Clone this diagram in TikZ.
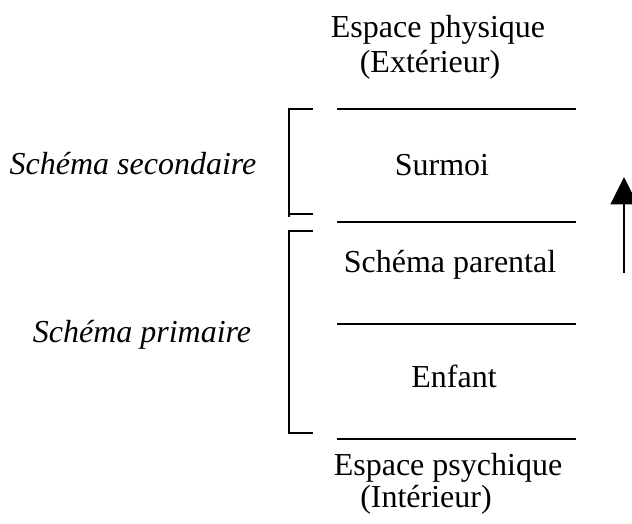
\documentclass[tikz,border=0pt]{standalone}
\usepackage{fontspec}
\setmainfont{Liberation Serif}
\usetikzlibrary{arrows.meta}
\begin{document}
\begin{tikzpicture}[x=0.4pt,y=-0.4pt,
  txt/.style={anchor=base,inner sep=0pt,font=\fontsize{12.8}{15}\selectfont},
  itxt/.style={txt,font=\fontsize{12.8}{15}\selectfont\itshape},
  rule/.style={line width=0.8pt},
  brk/.style={line width=0.8pt},
  uparrow/.style={line width=0.8pt,-{Triangle[length=11pt,width=10.8pt]}}]
\useasboundingbox (0,0) rectangle (632,524);
% texts
\node[txt] (phys) at (438,38) {Espace physique};
\node[txt] (ext) at (430,73) {(Extérieur)};
\node[txt] (surmoi) at (442,176) {Surmoi};
\node[txt] (parental) at (450,273) {Schéma parental};
\node[txt] (enfant) at (454,388) {Enfant};
\node[txt] (psy) at (448,476) {Espace psychique};
\node[txt] (int) at (426,508) {(Intérieur)};
\node[itxt] (sec) at (133,175) {Schéma secondaire};
\node[itxt] (prim) at (142,343) {Schéma primaire};
% horizontal rules
\coordinate (l1a) at (337,109); \coordinate (l1b) at (576,109);
\coordinate (l2a) at (337,222); \coordinate (l2b) at (576,222);
\coordinate (l3a) at (337,324); \coordinate (l3b) at (576,324);
\coordinate (l4a) at (337,439); \coordinate (l4b) at (576,439);
\draw[rule] (l1a) -- (l1b);
\draw[rule] (l2a) -- (l2b);
\draw[rule] (l3a) -- (l3b);
\draw[rule] (l4a) -- (l4b);
% brackets
\coordinate (b1t) at (313,109); \coordinate (b1b) at (313,214);
\coordinate (b2t) at (313,231); \coordinate (b2b) at (313,433);
\draw[brk] (b1t) -| (289,217);
\draw[brk] (289,214) -- (b1b);
\draw[brk] (b2t) -| (289,433) -- (b2b);
% arrow
\coordinate (ar0) at (624,273); \coordinate (ar1) at (624,177);
\draw[uparrow] (ar0) -- (ar1);
\end{tikzpicture}
\end{document}
